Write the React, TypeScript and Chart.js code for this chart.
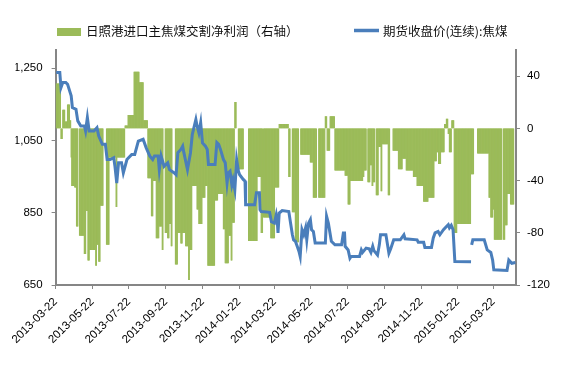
import React, { useEffect, useRef } from 'react';
import { Chart, registerables } from 'chart.js';

Chart.register(...registerables);

// ---- Data ----
const startDate = '2013-03-22';
const xMaxDay = 768;
const xTickLabels = [
  '2013-03-22', '2013-05-22', '2013-07-22', '2013-09-22', '2013-11-22',
  '2014-01-22', '2014-03-22', '2014-05-22', '2014-07-22', '2014-09-22',
  '2014-11-22', '2015-01-22', '2015-03-22',
];
const leftTicks = [650, 850, 1050, 1250];
const rightTicks = [-120, -80, -40, 0, 40];

const profitLabel = '日照港进口主焦煤交割净利润（右轴）';
const priceLabel = '期货收盘价(连续):焦煤';

// futures price (days since 2013-03-22)
const priceDay = [
  1, 7, 9, 12, 17, 20, 26, 28, 34, 37, 42, 48, 50, 53, 56, 64, 69, 72, 78, 83,
  86, 91, 97, 99, 102, 105, 110, 113, 119, 127, 132, 138, 146, 151, 157, 162, 165, 171, 173, 176,
  181, 187, 190, 198, 201, 204, 209, 212, 214, 220, 225, 228, 234, 236, 239, 242, 245, 250, 253, 255,
  266, 269, 272, 275, 280, 283, 286, 288, 291, 294, 296, 299, 302, 305, 307, 313, 316, 317, 332, 335,
  340, 341, 343, 357, 360, 365, 368, 370, 371, 373, 378, 389, 392, 395, 397, 400, 403, 406, 408, 411,
  414, 417, 419, 422, 425, 427, 430, 433, 450, 452, 455, 460, 466, 477, 480, 482, 483, 488, 491, 493,
  502, 507, 510, 512, 518, 523, 526, 529, 531, 537, 540, 542, 551, 556, 559, 564, 575, 581, 583, 603,
  605, 614, 616, 627, 630, 633, 638, 641, 647, 652, 655, 657, 660, 663, 666, 693, 693.5, 694, 696, 715,
  720, 726, 729, 731, 753, 756, 761, 767,
];
const priceValue = [
  1238, 1238, 1196, 1210, 1210, 1205, 1173, 1141, 1136, 1104, 1090, 1090, 1076, 1113, 1076, 1076, 1085, 1062, 1039, 1039,
  997, 997, 1002, 978, 932, 988, 988, 960, 997, 1011, 1011, 1048, 1053, 1030, 1007, 997, 1007, 1007, 969, 1007,
  978, 988, 969, 960, 955, 1016, 1025, 1034, 1016, 969, 1016, 1066, 1108, 1090, 1071, 1099, 1043, 1034, 1025, 983,
  983, 1044, 1039, 1025, 997, 988, 932, 960, 965, 927, 941, 914, 997, 965, 955, 942, 937, 872, 872, 905,
  905, 858, 853, 851, 825, 821, 844, 821, 794, 849, 856, 853, 821, 789, 775, 771, 757, 743, 729, 803,
  789, 808, 775, 821, 831, 803, 798, 766, 766, 840, 821, 771, 761, 761, 794, 794, 757, 747, 724, 729,
  729, 729, 747, 740, 752, 750, 740, 757, 745, 733, 761, 789, 789, 738, 750, 775, 775, 789, 778, 775,
  768, 768, 754, 754, 780, 794, 798, 789, 803, 812, 817, 808, 815, 803, 715, 714, null, 761, 775, 775,
  747, 740, 719, 692, 690, 719, 710, 712,
];

// net profit: value holds from profitStart[i] until profitStart[i+1] (null = no data)
const profitStart = [
  1, 9, 12, 16, 20, 24, 26, 27, 32, 35,
  38, 40, 48, 51, 54, 57, 67, 69, 72, 75,
  80, 85, 90, 101, 103, 116, 121, 131, 140, 147,
  154, 160, 163, 168, 173, 178, 180, 183, 187, 190,
  193, 195, 200, 204, 209, 212, 217, 222, 224, 228,
  236, 239, 245, 250, 254, 266, 271, 280, 283, 289,
  293, 295, 299, 302, 305, 314, 322, 337, 343, 346,
  347, 359, 366, 373, 389, 392, 395, 400, 406, 409,
  425, 430, 436, 439, 450, 453, 458, 466, 483, 488,
  492, 513, 515, 519, 521, 525, 528, 530, 533, 535,
  539, 543, 545, 555, 558, 563, 572, 579, 585, 597,
  603, 614, 622, 632, 636, 639, 643, 649, 652, 655,
  657, 661, 665, 670, 693, 698, 704, 723, 726, 730,
  732, 745, 747, 750, 754, 759, 765,
];
const profitValue = [
  34, -8, 14, 5, 18, 6, -22, -44, -45, -75,
  null, -82, -96, -63, -101, -93, -105, -89, -102, -59,
  null, -89, -22, -60, -22, 2, 10, 43, 35, 6,
  -38, -67, -40, -84, -75, -93, null, -80, -84, -73,
  -90, null, -104, -80, -88, -80, -90, -116, -93, -44,
  -62, -73, -53, -44, -105, -55, -50, -77, -103, -82,
  -101, -72, 20, null, -31, null, -86, -37, -80, null,
  -68, -84, -45, 3, -37, null, -64, -87, null, -20,
  -26, -53, null, -53, 9, -17, 9, -32, -36, -58,
  -40, -37, -32, null, -41, -28, -44, -41, null, -51,
  -14, -48, -12, -51, null, -17, -31, -23, -32, -37,
  -44, -56, -53, -25, -18, -27, -18, 3, 7, -4,
  -18, 6, -80, -73, -35, null, -19, -53, -68, -62,
  -85, null, -85, -74, -50, -58,
];

// ---- helpers ----
function dayOf(s: string): number {
  const [y, m, d] = s.split('-').map(Number);
  const [y0, m0, d0] = startDate.split('-').map(Number);
  return Math.round((Date.UTC(y, m - 1, d) - Date.UTC(y0, m0 - 1, d0)) / 864e5);
}

const GREEN = '#9bbb59';
const BLUE = '#4a7ebb';
const AXIS = '#868686';
const TICK_FONT = { family: '"Liberation Sans", Arial, sans-serif', size: 11.5 };

const legendPlugin = {
  id: 'customLegend',
  afterDraw(chart: any) {
    const ctx = chart.ctx;
    ctx.save();
    ctx.font = '12.5px "Noto Sans CJK SC", sans-serif';
    ctx.textBaseline = 'middle';
    ctx.textAlign = 'left';
    ctx.fillStyle = GREEN;
    ctx.fillRect(49, 20, 24, 8);
    ctx.fillStyle = '#111';
    ctx.fillText(profitLabel, 78, 23.5);
    ctx.strokeStyle = BLUE;
    ctx.lineWidth = 3.5;
    ctx.beginPath();
    ctx.moveTo(346, 22.5);
    ctx.lineTo(371, 22.5);
    ctx.stroke();
    ctx.fillStyle = '#111';
    ctx.fillText(priceLabel, 375, 23.5);
    ctx.restore();
  },
};

export default function App() {
  const ref = useRef<HTMLCanvasElement | null>(null);

  useEffect(() => {
    if (!ref.current) return;

    const priceData = priceDay.map((d, i) => ({ x: d, y: priceValue[i] }));
    const profitData: { x: number; y: number }[] = [];
    for (let i = 0; i < profitValue.length; i++) {
      const v = profitValue[i];
      if (v === null) continue;
      for (let d = profitStart[i]; d < profitStart[i + 1]; d++) {
        profitData.push({ x: d, y: v as number });
      }
    }
    const tickDays = xTickLabels.map(dayOf);

    const chart = new Chart(ref.current, {
      type: 'bar',
      data: {
        datasets: [
          {
            type: 'line',
            label: priceLabel,
            data: priceData as any,
            borderColor: BLUE,
            backgroundColor: BLUE,
            borderWidth: 3,
            pointRadius: 0,
            tension: 0,
            spanGaps: false,
            yAxisID: 'y',
            order: 0,
          } as any,
          {
            type: 'bar',
            label: profitLabel,
            data: profitData as any,
            backgroundColor: GREEN,
            borderWidth: 0,
            barPercentage: 1,
            categoryPercentage: 1,
            yAxisID: 'y1',
            order: 1,
          } as any,
        ],
      },
      options: {
        animation: false,
        responsive: true,
        maintainAspectRatio: false,
        layout: { padding: { top: 42, left: 0, right: 0, bottom: 0 } },
        plugins: {
          legend: { display: false },
          tooltip: { enabled: false },
        },
        scales: {
          x: {
            type: 'linear',
            min: 0,
            max: xMaxDay,
            offset: false,
            afterBuildTicks: (scale: any) => {
              scale.ticks = tickDays.map((v) => ({ value: v }));
            },
            afterFit: (scale: any) => {
              scale.height = 84;
            },
            ticks: {
              autoSkip: false,
              maxRotation: 45,
              minRotation: 45,
              padding: 6,
              color: '#000',
              font: TICK_FONT,
              callback: (v: any) => {
                const i = tickDays.indexOf(Number(v));
                return i >= 0 ? xTickLabels[i] : '';
              },
            },
            grid: {
              offset: false,
              drawOnChartArea: false,
              drawTicks: true,
              tickLength: 4,
              color: AXIS,
              lineWidth: 1,
            },
            border: { color: AXIS, width: 2 },
          },
          y: {
            type: 'linear',
            position: 'left',
            min: 650,
            max: 1300,
            afterBuildTicks: (scale: any) => {
              scale.ticks = leftTicks.map((v) => ({ value: v }));
            },
            afterFit: (scale: any) => {
              scale.width = 40;
            },
            ticks: {
              padding: 9,
              color: '#000',
              font: TICK_FONT,
              callback: (v: any) => Number(v).toLocaleString('en-US'),
            },
            grid: {
              drawOnChartArea: false,
              drawTicks: true,
              tickLength: 4,
              color: AXIS,
              lineWidth: 1,
            },
            border: { color: AXIS, width: 2 },
          },
          y1: {
            type: 'linear',
            position: 'right',
            min: -120,
            max: 60,
            afterBuildTicks: (scale: any) => {
              scale.ticks = rightTicks.map((v) => ({ value: v }));
            },
            afterFit: (scale: any) => {
              scale.width = 37;
            },
            ticks: {
              padding: 7,
              color: '#000',
              font: TICK_FONT,
              callback: (v: any) => String(v),
            },
            grid: {
              drawOnChartArea: false,
              drawTicks: true,
              tickLength: 4,
              color: AXIS,
              lineWidth: 1,
            },
            border: { color: AXIS, width: 2 },
          },
        },
      } as any,
      plugins: [legendPlugin],
    });

    return () => chart.destroy();
  }, []);

  return (
    <div style={{ width: 545, height: 361, position: 'relative' }}>
      <canvas ref={ref} />
    </div>
  );
}
